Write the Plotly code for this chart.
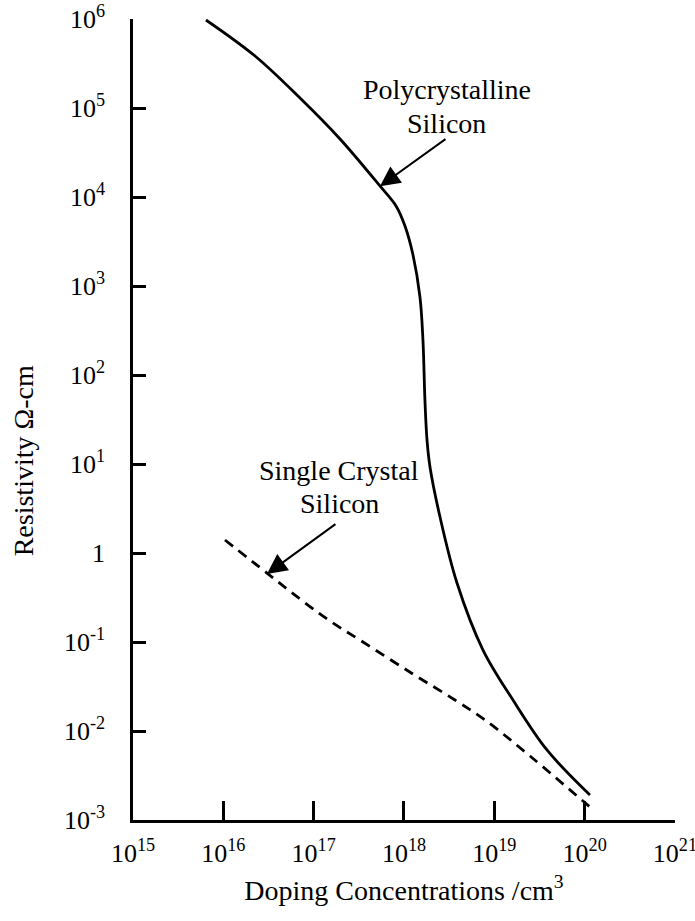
import plotly.graph_objects as go

# Data (log10 of values)
poly_logx = [15.808, 16.351, 16.849, 17.292, 17.734, 17.912, 18.011, 18.100, 18.177, 18.210,
             18.232, 18.255, 18.288, 18.399, 18.587, 18.875, 19.207, 19.583, 20.059]
poly_logy = [5.989, 5.584, 5.112, 4.652, 4.124, 3.899, 3.674, 3.348, 2.876, 2.393,
             1.719, 1.270, 0.966, 0.404, -0.337, -1.090, -1.652, -2.213, -2.719]

single_logx = [16.018, 16.483, 16.849, 17.181, 17.546, 18.100, 18.565, 18.897, 19.395, 19.982, 20.059]
single_logy = [0.146, -0.225, -0.517, -0.764, -1.000, -1.360, -1.652, -1.876, -2.281, -2.787, -2.854]

x_exps = [15, 16, 17, 18, 19, 20, 21]
x_ticktext = ["10<sup>%d</sup>" % e for e in x_exps]
y_exps = [-3, -2, -1, 0, 1, 2, 3, 4, 5, 6]
y_ticktext = ["1" if e == 0 else "10<sup>%d</sup>" % e for e in y_exps]

FONT = "Liberation Serif, Times New Roman, serif"

poly_x = [10.0 ** v for v in poly_logx]
poly_y = [10.0 ** v for v in poly_logy]
single_x = [10.0 ** v for v in single_logx]
single_y = [10.0 ** v for v in single_logy]

fig = go.Figure()
fig.add_trace(go.Scatter(x=poly_x, y=poly_y, mode="lines",
                         line=dict(color="black", width=2.8, shape="spline", smoothing=1.0),
                         showlegend=False, hoverinfo="skip"))
fig.add_trace(go.Scatter(x=single_x, y=single_y, mode="lines",
                         line=dict(color="black", width=2.8, dash="10px,7px", shape="spline", smoothing=1.0),
                         showlegend=False, hoverinfo="skip"))

ann = []
for txt, x, y in [("Polycrystalline", 18.476, 5.208), ("Silicon", 18.476, 4.826),
                  ("Single Crystal", 17.281, 0.927), ("Silicon", 17.281, 0.556)]:
    ann.append(dict(x=x, y=y, xref="x", yref="y", text=txt, showarrow=False,
                    font=dict(family=FONT, size=28, color="black"),
                    xanchor="center", yanchor="middle"))
for tx, ty, sx, sy in [(17.734, 4.12, 18.476, 4.663), (16.483, -0.235, 17.258, 0.337)]:
    ann.append(dict(x=tx, y=ty, xref="x", yref="y", ax=sx, ay=sy, axref="x", ayref="y",
                    text="", showarrow=True, arrowhead=2, arrowsize=2.0, arrowwidth=2.0,
                    arrowcolor="black", standoff=0, startstandoff=0))
# y-axis title (placed slightly below the axis centre, as in the reference)
ann.append(dict(x=-0.203, y=0.449, xref="paper", yref="paper", text="Resistivity Ω-cm",
                textangle=-90, showarrow=False, xanchor="center", yanchor="middle",
                font=dict(family=FONT, size=28, color="black")))

fig.update_layout(
    width=695, height=921,
    margin=dict(l=133, r=20, t=19, b=101),
    paper_bgcolor="white", plot_bgcolor="white",
    font=dict(family=FONT, size=26, color="black"),
    showlegend=False,
    annotations=ann,
)

fig.update_xaxes(type="log", range=[15, 21.0005], tickvals=[10.0 ** e for e in x_exps], ticktext=x_ticktext,
                 ticks="inside", ticklen=19, tickwidth=2.5, tickcolor="black",
                 showline=True, linewidth=2.5, linecolor="black", showgrid=False, zeroline=False,
                 ticklabelstandoff=8, ticklabeloverflow="allow", automargin=False,
                 title=dict(text="Doping Concentrations /cm<sup>3</sup>", font=dict(size=28), standoff=14))
fig.update_yaxes(type="log", range=[-3, 6], tickvals=[10.0 ** e for e in y_exps], ticktext=y_ticktext,
                 ticks="inside", ticklen=13, tickwidth=2.5, tickcolor="black",
                 showline=True, linewidth=2.5, linecolor="black", showgrid=False, zeroline=False,
                 ticklabelstandoff=20, ticklabeloverflow="allow", automargin=False)

fig.write_html("out.html")
